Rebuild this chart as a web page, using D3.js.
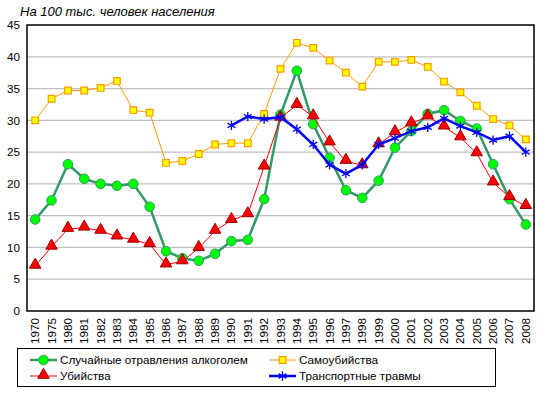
<!DOCTYPE html>
<html>
<head>
<meta charset="utf-8">
<script src="https://cdn.jsdelivr.net/npm/d3@7"></script>
<style>
  body { margin: 0; background: #fff; }
  svg text { font-family: "Liberation Sans", Arial, sans-serif; }
</style>
</head>
<body>
<div id="chart"></div>
<script>
// Years (categories)
var years = ["1970","1975","1980","1981","1982","1983","1984","1985","1986","1987","1988","1989",
  "1990","1991","1992","1993","1994","1995","1996","1997","1998","1999","2000","2001","2002",
  "2003","2004","2005","2006","2007","2008"];

// Series values, per 100 thousand population
var alcohol = [14.4,17.4,23.1,20.8,20.0,19.7,20.0,16.4,9.4,8.3,7.9,9.0,11.0,11.2,17.6,30.9,37.8,29.4,24.1,19.0,17.8,20.5,25.7,28.3,31.0,31.6,29.9,28.7,23.1,17.6,13.6];
var suicide = [30.0,33.4,34.7,34.7,35.1,36.2,31.6,31.2,23.3,23.6,24.7,26.2,26.4,26.4,31.0,38.1,42.2,41.4,39.4,37.5,35.3,39.2,39.2,39.5,38.4,36.1,34.4,32.3,30.2,29.2,27.0];
var murder = [7.1,10.1,12.9,13.1,12.6,11.7,11.2,10.5,7.3,7.8,9.9,12.6,14.3,15.2,22.7,30.4,32.4,30.6,26.5,23.6,22.9,26.2,28.1,29.5,30.6,29.0,27.3,24.8,20.2,17.9,16.5];
var transport = [null,null,null,null,null,null,null,null,null,null,null,null,29.2,30.6,30.2,30.5,28.6,26.2,23.0,21.6,23.0,26.2,27.2,28.3,28.9,30.3,29.1,28.1,26.9,27.5,25.0];

var yTicks = [0,5,10,15,20,25,30,35,40,45];
var labels = ["Случайные отравления алкоголем","Самоубийства","Убийства","Транспортные травмы"];

const width = 549, height = 395;
const plot = { left: 27, right: 534, top: 25, bottom: 311 };
const fontSize = 11.7;

const svg = d3.select("#chart").append("svg")
  .attr("width", width).attr("height", height);

const x = d3.scaleBand().domain(years).range([plot.left, plot.right]).padding(0);
const y = d3.scaleLinear().domain([0, 45]).range([plot.bottom, plot.top]);
const cx = d => x(d) + x.bandwidth() / 2;

// title
svg.append("text")
  .attr("x", 20).attr("y", 16)
  .attr("font-size", 13).attr("font-style", "italic")
  .text("На 100 тыс. человек населения");

// gridlines
svg.append("g").selectAll("line")
  .data(yTicks.filter(t => t > 0 && t < 45))
  .enter().append("line")
  .attr("x1", plot.left).attr("x2", plot.right)
  .attr("y1", d => y(d)).attr("y2", d => y(d))
  .attr("stroke", "#c0c0c0").attr("stroke-width", 1.2);

// frame
svg.append("rect")
  .attr("x", plot.left).attr("y", plot.top)
  .attr("width", plot.right - plot.left).attr("height", plot.bottom - plot.top)
  .attr("fill", "none").attr("stroke", "#000").attr("stroke-width", 1.5);

// y axis
const yAxis = svg.append("g")
  .attr("transform", `translate(${plot.left},0)`)
  .call(d3.axisLeft(y).tickValues(yTicks).tickSize(0).tickPadding(7));
yAxis.select(".domain").remove();
yAxis.selectAll("text").attr("font-size", fontSize).attr("fill", "#000")
  .style("font-family", "Liberation Sans, Arial, sans-serif");

// x axis labels
svg.append("g").selectAll("text")
  .data(years)
  .enter().append("text")
  .attr("transform", d => `translate(${cx(d) + 4},318) rotate(-90)`)
  .attr("text-anchor", "end")
  .attr("font-size", fontSize)
  .text(d => d);

// series
const series = [
  { name: labels[0], values: alcohol, color: "#339966", width: 2.5 },
  { name: labels[1], values: suicide, color: "#ff9900", width: 1 },
  { name: labels[2], values: murder, color: "#ff0000", width: 1 },
  { name: labels[3], values: transport, color: "#0000ff", width: 2.5 }
];

const line = d3.line()
  .defined(d => d.v != null)
  .x(d => cx(d.year))
  .y(d => y(d.v));

function drawMarker(g, i) {
  if (i === 0) {
    g.append("circle").attr("r", 4.8).attr("fill", "#00ff00").attr("stroke", "#339966").attr("stroke-width", 1);
  } else if (i === 1) {
    g.append("path").attr("d", d3.symbol(d3.symbolSquare, 44)())
      .attr("fill", "#ffff00").attr("stroke", "#ff9900").attr("stroke-width", 1.2);
  } else if (i === 2) {
    g.append("path").attr("d", d3.symbol(d3.symbolTriangle, 58)())
      .attr("transform", "translate(0,-1)")
      .attr("fill", "#ff0000").attr("stroke", "#990000").attr("stroke-width", 1);
  } else {
    g.append("path").attr("d", d3.symbol(d3.symbolAsterisk, 60)())
      .attr("fill", "none").attr("stroke", "#0000ff").attr("stroke-width", 1.3);
  }
}

series.forEach(function (s, i) {
  const pts = years.map((yr, j) => ({ year: yr, v: s.values[j] }));
  svg.append("path")
    .datum(pts)
    .attr("d", line)
    .attr("fill", "none")
    .attr("stroke", s.color)
    .attr("stroke-width", s.width);
  svg.append("g").selectAll("g")
    .data(pts.filter(d => d.v != null))
    .enter().append("g")
    .attr("transform", d => `translate(${cx(d.year)},${y(d.v)})`)
    .each(function () { drawMarker(d3.select(this), i); });
});

// legend
const legend = svg.append("g");
legend.append("rect")
  .attr("x", 17.5).attr("y", 348.5).attr("width", 478).attr("height", 38)
  .attr("fill", "#fff").attr("stroke", "#000").attr("stroke-width", 1);

const legendPos = [
  { x: 30, y: 360 }, { x: 269, y: 360 }, { x: 30, y: 376 }, { x: 269, y: 376 }
];
series.forEach(function (s, i) {
  const p = legendPos[i];
  const g = legend.append("g");
  g.append("line")
    .attr("x1", p.x).attr("x2", p.x + 27)
    .attr("y1", p.y).attr("y2", p.y)
    .attr("stroke", s.color).attr("stroke-width", s.width);
  const m = g.append("g").attr("transform", `translate(${p.x + 13.5},${p.y})`);
  drawMarker(m, i);
  g.append("text")
    .attr("x", p.x + 30).attr("y", p.y + 4)
    .attr("font-size", fontSize)
    .text(s.name);
});
</script>
</body>
</html>
